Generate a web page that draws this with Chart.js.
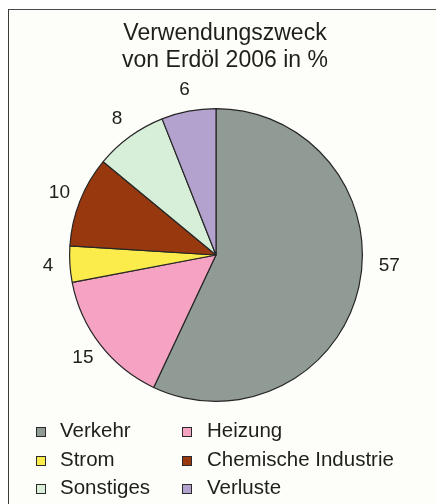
<!DOCTYPE html>
<html lang="de">
<head>
<meta charset="utf-8">
<script src="https://cdn.jsdelivr.net/npm/chart.js@4"></script>
<style>
  body { margin: 0; background: #fff; }
  #wrap { position: relative; width: 436px; height: 504px; overflow: hidden; background: #fff; }
  #frame { position: absolute; left: 8px; top: 9px; width: 440px; height: 510px;
           border-left: 1.5px solid #3a3a3a; border-top: 1.5px solid #4a4a4a; background: #fdfdf9; }
  canvas { position: absolute; left: 0; top: 0; }
  #titel { position: absolute; left: 0; top: 19px; width: 450px; text-align: center;
           font-family: "Liberation Sans", Arial, sans-serif; font-size: 23px; line-height: 27px; color: #1c1f1a; }
  .item { position: absolute; white-space: nowrap; font-family: "Liberation Sans", Arial, sans-serif;
          font-size: 20.5px; line-height: 24px; color: #1c1f1a; }
  .box { position: absolute; width: 8px; height: 8px; border: 1px solid #2a2a2a; }
</style>
</head>
<body>
<div id="wrap">
  <div id="frame"></div>
  <canvas id="torte" width="436" height="504"></canvas>
  <div id="titel"></div>
  <div id="legende"></div>
</div>
<script>
// Daten
const titel = ['Verwendungszweck', 'von Erdöl 2006 in %'];
const kategorien = ['Verkehr', 'Heizung', 'Strom', 'Chemische Industrie', 'Sonstiges', 'Verluste'];
const anteile = [57, 15, 4, 10, 8, 6];
const farben = ['#909b96', '#f6a3c3', '#fbec4b', '#98380f', '#d7efd8', '#b4a2ce'];

document.getElementById('titel').innerHTML = titel.join('<br>');

// Legende: 2 Spalten, zeilenweise
const legende = document.getElementById('legende');
const spaltenBox = [36, 182];
const spaltenText = [60, 207];
const zeilenBasis = [437, 466, 494];
kategorien.forEach((name, i) => {
  const zeile = Math.floor(i / 2), spalte = i % 2;
  const box = document.createElement('div');
  box.className = 'box';
  box.style.left = spaltenBox[spalte] + 'px';
  box.style.top = (zeilenBasis[zeile] - 10) + 'px';
  box.style.background = farben[i];
  legende.appendChild(box);
  const txt = document.createElement('div');
  txt.className = 'item';
  txt.style.left = spaltenText[spalte] + 'px';
  txt.style.top = (zeilenBasis[zeile] - 19) + 'px';
  txt.textContent = name;
  legende.appendChild(txt);
});

// Werte außen an die Stücke schreiben
const wertLabels = {
  id: 'wertLabels',
  afterDatasetsDraw(chart) {
    const ctx = chart.ctx;
    const meta = chart.getDatasetMeta(0);
    const schub = { 0: [9, -26] }; // 57 steht im Original höher
    ctx.save();
    ctx.font = '19px "Liberation Sans", Arial, sans-serif';
    ctx.fillStyle = '#1c1f1a';
    ctx.textAlign = 'center';
    ctx.textBaseline = 'middle';
    meta.data.forEach((arc, i) => {
      const p = arc.getProps(['x', 'y', 'startAngle', 'endAngle', 'outerRadius'], true);
      const mitte = (p.startAngle + p.endAngle) / 2;
      const r = p.outerRadius + 22;
      let x = p.x + Math.cos(mitte) * r;
      let y = p.y + Math.sin(mitte) * r;
      if (schub[i]) { x += schub[i][0]; y += schub[i][1]; }
      ctx.fillText(String(chart.data.datasets[0].data[i]), x, y);
    });
    ctx.restore();
  }
};

new Chart(document.getElementById('torte'), {
  type: 'pie',
  data: {
    labels: kategorien,
    datasets: [{
      data: anteile,
      backgroundColor: farben,
      borderColor: '#262626',
      borderWidth: 1.2
    }]
  },
  options: {
    responsive: false,
    animation: false,
    devicePixelRatio: 1,
    layout: { padding: { left: 69, right: 73, top: 108, bottom: 102 } },
    plugins: {
      legend: { display: false },
      title: { display: false },
      tooltip: { enabled: false }
    }
  },
  plugins: [wertLabels]
});
</script>
</body>
</html>
